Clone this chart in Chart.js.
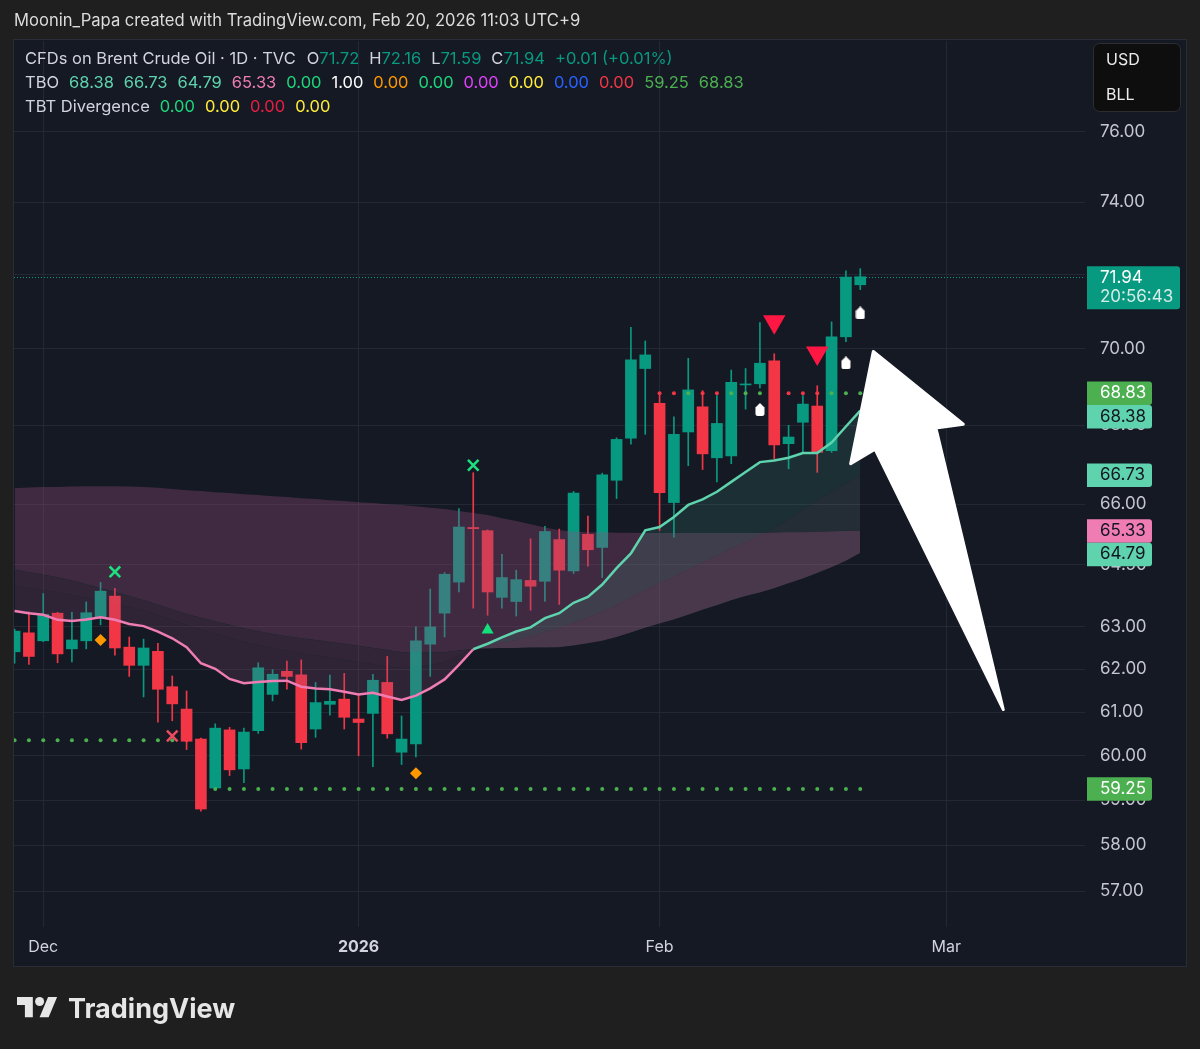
<!DOCTYPE html>
<html>
<head>
<meta charset="utf-8">
<script src="https://cdn.jsdelivr.net/npm/chart.js@4.4.1/dist/chart.umd.min.js"></script>
<style>
  html, body { margin: 0; padding: 0; background: #1f1f1f; }
  canvas { display: block; }
</style>
</head>
<body>
<canvas id="mycanvas" width="1200" height="1049"></canvas>
<script>
// Brent CFD, daily bars Nov 27 2025 .. Feb 20 2026
var dates = ['Nov 27','Nov 28','Dec 1','Dec 2','Dec 3','Dec 4','Dec 5','Dec 8','Dec 9','Dec 10',
  'Dec 11','Dec 12','Dec 15','Dec 16','Dec 17','Dec 18','Dec 19','Dec 22','Dec 23','Dec 24',
  'Dec 26','Dec 29','Dec 30','Dec 31','Jan 2','Jan 5','Jan 6','Jan 7','Jan 8','Jan 9',
  'Jan 12','Jan 13','Jan 14','Jan 15','Jan 16','Jan 19','Jan 20','Jan 21','Jan 22','Jan 23',
  'Jan 26','Jan 27','Jan 28','Jan 29','Jan 30','Feb 2','Feb 3','Feb 4','Feb 5','Feb 6',
  'Feb 9','Feb 10','Feb 11','Feb 12','Feb 13','Feb 16','Feb 17','Feb 18','Feb 19','Feb 20'];

var open = [62.41, 62.86, 62.67, 63.33, 62.48, 62.67, 63.23, 63.74, 62.52, 62.09,
  62.42, 61.59, 61.07, 60.38, 59.27, 60.59, 59.70, 60.57, 61.41, 61.95,
  61.87, 60.61, 61.18, 61.30, 60.84, 60.97, 61.69, 60.08, 60.27, 62.59,
  63.33, 64.08, 65.42, 65.34, 63.71, 63.61, 64.12, 64.10, 65.12, 64.35,
  65.25, 64.93, 66.60, 67.67, 69.48, 68.57, 66.04, 67.83, 68.48, 67.17,
  67.22, 69.05, 69.08, 69.68, 67.53, 68.08, 68.50, 67.35, 70.32, 71.72];
var high = [62.95, 63.36, 63.80, 63.35, 63.35, 63.60, 64.07, 63.93, 62.76, 62.71,
  62.61, 61.84, 61.49, 60.40, 60.73, 60.65, 60.63, 62.15, 61.99, 62.19,
  62.22, 61.69, 61.86, 61.90, 61.40, 61.88, 62.30, 60.91, 63.00, 63.91,
  64.31, 65.89, 66.79, 65.36, 64.76, 64.37, 65.14, 65.45, 65.38, 66.32,
  65.70, 66.78, 67.68, 70.57, 70.21, 68.83, 68.22, 69.75, 68.90, 68.77,
  69.44, 69.48, 70.70, 69.87, 68.00, 68.77, 69.03, 70.72, 72.10, 72.16];
var low = [62.14, 62.11, 62.65, 62.15, 62.17, 62.48, 63.05, 62.33, 61.83, 61.35,
  60.77, 60.80, 60.14, 58.75, 59.27, 59.55, 59.39, 60.51, 61.26, 61.53,
  60.15, 60.42, 60.93, 60.61, 60.00, 59.75, 60.40, 59.80, 59.97, 61.83,
  62.76, 63.84, 63.45, 63.28, 63.45, 63.26, 63.40, 63.61, 63.54, 64.29,
  64.47, 64.19, 66.14, 67.52, 67.77, 65.35, 65.18, 66.97, 66.87, 66.56,
  67.02, 68.42, 68.97, 67.14, 66.89, 67.31, 66.80, 67.31, 70.19, 71.59];
var close = [62.90, 62.30, 63.30, 62.36, 62.69, 63.34, 63.86, 62.50, 62.09, 62.50,
  61.53, 61.19, 60.33, 58.80, 60.63, 59.68, 60.54, 62.03, 61.88, 61.83,
  60.30, 61.22, 61.25, 60.88, 60.76, 61.74, 60.50, 60.38, 62.67, 63.00,
  64.27, 65.43, 65.39, 63.84, 64.19, 64.14, 63.98, 65.32, 64.37, 66.28,
  64.87, 66.74, 67.64, 69.71, 69.84, 66.29, 67.77, 68.92, 67.27, 68.05,
  69.12, 69.07, 69.62, 67.50, 67.70, 68.55, 67.31, 70.32, 71.93, 71.94];

// TBO lines
var tboFast = [63.38, 63.33, 63.29, 63.17, 63.14, 63.18, 63.23, 63.17, 63.07, 63.02,
  62.89, 62.73, 62.52, 62.14, 62.01, 61.77, 61.67, 61.70, 61.72, 61.73,
  61.59, 61.55, 61.53, 61.47, 61.41, 61.45, 61.36, 61.28, 61.38, 61.55,
  61.76, 62.10, 62.47, 62.60, 62.75, 62.89, 62.99, 63.21, 63.33, 63.58,
  63.72, 64.02, 64.42, 64.78, 65.35, 65.43, 65.68, 65.98, 66.12, 66.31,
  66.56, 66.81, 67.06, 67.10, 67.17, 67.29, 67.29, 67.56, 67.97, 68.38];
var tboMid = [64.00, 63.95, 63.89, 63.83, 63.77, 63.70, 63.64, 63.57, 63.48, 63.40,
  63.29, 63.17, 63.05, 62.94, 62.84, 62.74, 62.65, 62.57, 62.50, 62.44,
  62.38, 62.33, 62.28, 62.22, 62.17, 62.12, 62.07, 62.02, 62.05, 62.10,
  62.17, 62.32, 62.48, 62.55, 62.62, 62.69, 62.78, 62.88, 62.98, 63.10,
  63.23, 63.36, 63.52, 63.70, 63.88, 64.05, 64.21, 64.38, 64.55, 64.72,
  64.90, 65.06, 65.23, 65.40, 65.62, 65.86, 66.10, 66.31, 66.52, 66.73];
var tboSlow = [64.38, 64.32, 64.26, 64.20, 64.12, 64.03, 63.93, 63.84, 63.74, 63.64,
  63.53, 63.42, 63.31, 63.22, 63.13, 63.05, 62.97, 62.90, 62.83, 62.78,
  62.73, 62.69, 62.64, 62.60, 62.55, 62.50, 62.45, 62.40, 62.39, 62.39,
  62.40, 62.44, 62.48, 62.49, 62.50, 62.50, 62.51, 62.51, 62.52, 62.56,
  62.61, 62.67, 62.76, 62.87, 62.98, 63.08, 63.18, 63.29, 63.41, 63.52,
  63.64, 63.74, 63.83, 63.93, 64.05, 64.17, 64.30, 64.44, 64.60, 64.79];
var tboLong = [66.40, 66.42, 66.43, 66.43, 66.44, 66.45, 66.45, 66.45, 66.44, 66.43,
  66.41, 66.38, 66.35, 66.33, 66.30, 66.28, 66.25, 66.23, 66.20, 66.18,
  66.15, 66.13, 66.10, 66.08, 66.05, 66.03, 66.00, 65.98, 65.95, 65.91,
  65.88, 65.83, 65.78, 65.73, 65.65, 65.58, 65.50, 65.42, 65.35, 65.32,
  65.30, 65.30, 65.29, 65.29, 65.28, 65.28, 65.28, 65.28, 65.28, 65.28,
  65.28, 65.28, 65.28, 65.29, 65.30, 65.30, 65.31, 65.32, 65.33, 65.33];

var supportLevel = [60.35, 60.35, 60.35, 60.35, 60.35, 60.35, 60.35, 60.35, 60.35, 60.35,
  60.35, 60.35, 60.35, 60.35, 59.25, 59.25, 59.25, 59.25, 59.25, 59.25,
  59.25, 59.25, 59.25, 59.25, 59.25, 59.25, 59.25, 59.25, 59.25, 59.25,
  59.25, 59.25, 59.25, 59.25, 59.25, 59.25, 59.25, 59.25, 59.25, 59.25,
  59.25, 59.25, 59.25, 59.25, 59.25, 59.25, 59.25, 59.25, 59.25, 59.25,
  59.25, 59.25, 59.25, 59.25, 59.25, 59.25, 59.25, 59.25, 59.25, 59.25];
var resistLevel = [null, null, null, null, null, null, null, null, null, null,
  null, null, null, null, null, null, null, null, null, null,
  null, null, null, null, null, null, null, null, null, null,
  null, null, null, null, null, null, null, null, null, null,
  null, null, null, null, null, 68.83, 68.83, 68.83, 68.83, 68.83,
  68.83, 68.83, 68.83, 68.83, 68.83, 68.83, 68.83, 68.83, 68.83, 68.83];

// signals: [bar index, price]
var buyCross = [[7, 64.33], [32, 66.98]];
var sellCross = [[11, 60.45]];
var diamonds = [[6, 62.69], [28, 59.60]];
var triUp = [[33, 62.93]];
var triDown = [[53, 70.72], [56, 69.89]];
var whiteTags = [[52, 68.41], [58, 69.63], [59, 70.96]];

// hand-drawn arrow, [bar index, price]
var arrowPts = [[59.91, 69.93], [66.19, 68.03], [64.28, 67.93], [68.98, 61.06], [60.03, 67.39], [58.33, 67.02]];

var priceTicks = [57, 58, 59, 60, 61, 62, 63, 64.5, 66, 68, 70, 72, 74, 76];
var xTickIndex = [2, 24, 45, 65];
var xTickText = ['Dec', '2026', 'Feb', 'Mar'];

var tboFlags = ['0.00', '1.00', '0.00', '0.00', '0.00', '0.00', '0.00', '0.00'];
var tbtValues = ['0.00', '0.00', '0.00', '0.00'];

var FONT = "Inter, 'Noto Sans', sans-serif";
var up = '#089981', down = '#f23645';
var mint = '#5fd3ad', pink = '#f07cb4', dotGreen = '#4caf50';
var last = close.length - 1;
var idx = close.map(function(_, i) { return i; });

function candleColor(c) {
  var i = c.dataIndex;
  return close[i] >= open[i] ? up : down;
}
function pts(arr) {
  return arr.map(function(p) { return { x: p[0], y: p[1] }; });
}
function series(arr) {
  return arr.map(function(v, i) { return { x: i, y: v }; });
}
function levelColor(level) {
  return function(c) {
    var i = c.dataIndex;
    return close[i] < level[i] ? down : dotGreen;
  };
}

var tag = document.createElement('canvas');
tag.width = 10; tag.height = 13;
(function() {
  var g = tag.getContext('2d');
  g.fillStyle = '#ffffff';
  g.beginPath();
  g.moveTo(5, 0);
  g.lineTo(9.5, 4.5);
  g.lineTo(9.5, 10.5);
  g.quadraticCurveTo(9.5, 13, 7, 13);
  g.lineTo(3, 13);
  g.quadraticCurveTo(0.5, 13, 0.5, 10.5);
  g.lineTo(0.5, 4.5);
  g.closePath();
  g.fill();
})();

function runs(ctx, x, y, list) {
  list.forEach(function(r) {
    ctx.fillStyle = r[1];
    ctx.fillText(r[0], x, y);
    x += ctx.measureText(r[0]).width + r[2];
  });
}

var chrome = {
  id: 'chrome',
  beforeDraw: function(chart) {
    var c = chart.ctx;
    c.save();
    c.fillStyle = '#1f1f1f';
    c.fillRect(0, 0, chart.width, chart.height);
    c.fillStyle = '#151924';
    c.fillRect(14, 40, 1172, 926);
    c.strokeStyle = '#2a2d38';
    c.lineWidth = 1;
    c.strokeRect(13.5, 39.5, 1173, 927);
    c.restore();
  },
  afterDatasetsDraw: function(chart) {
    var c = chart.ctx, xs = chart.scales.x, ys = chart.scales.y, a = chart.chartArea;
    c.save();
    // last price line
    var py = Math.round(ys.getPixelForValue(close[last])) + 0.5;
    c.setLineDash([1, 2]);
    c.strokeStyle = up;
    c.lineWidth = 1;
    c.beginPath();
    c.moveTo(a.left, py);
    c.lineTo(a.right, py);
    c.stroke();
    c.setLineDash([]);
    // arrow
    c.beginPath();
    arrowPts.forEach(function(p, k) {
      var px = xs.getPixelForValue(p[0]), qy = ys.getPixelForValue(p[1]);
      if (k) c.lineTo(px, qy); else c.moveTo(px, qy);
    });
    c.closePath();
    c.fillStyle = '#ffffff';
    c.strokeStyle = '#ffffff';
    c.lineJoin = 'round';
    c.lineWidth = 3;
    c.fill();
    c.stroke();
    c.restore();
  },
  afterDraw: function(chart) {
    var c = chart.ctx, ys = chart.scales.y;
    c.save();
    c.textBaseline = 'middle';
    c.font = '16.6px ' + FONT;
    c.fillStyle = '#dcdcdc';
    c.fillText('Moonin_Papa created with TradingView.com, Feb 20, 2026 11:03 UTC+9', 14, 21);

    var txt = '#d1d4dc';
    var chg = close[last] - close[last - 1];
    var pct = chg / close[last - 1] * 100;
    c.font = '16.5px ' + FONT;
    runs(c, 25, 59, [
      ['CFDs on Brent Crude Oil · 1D · TVC', txt, 11],
      ['O', txt, 0], [open[last].toFixed(2), up, 10],
      ['H', txt, 0], [high[last].toFixed(2), up, 10],
      ['L', txt, 0], [low[last].toFixed(2), up, 10],
      ['C', txt, 0], [close[last].toFixed(2), up, 10],
      ['+' + chg.toFixed(2) + ' (+' + pct.toFixed(2) + '%)', up, 0]
    ]);
    var flagColors = ['#1ed67a', '#ffffff', '#ff9800', '#1ed67a', '#e040fb', '#ffeb3b', '#2962ff', '#f23645'];
    var row2 = [['TBO', txt, 10],
      [tboFast[last].toFixed(2), mint, 10], [tboMid[last].toFixed(2), mint, 10],
      [tboSlow[last].toFixed(2), mint, 10], [tboLong[last].toFixed(2), pink, 10]];
    tboFlags.forEach(function(f, k) { row2.push([f, flagColors[k], 10]); });
    row2.push([supportLevel[last].toFixed(2), dotGreen, 10]);
    row2.push([resistLevel[last].toFixed(2), dotGreen, 10]);
    runs(c, 25, 83, row2);
    var tbtColors = ['#1ed67a', '#ffeb3b', '#e91e43', '#ffeb3b'];
    var row3 = [['TBT Divergence', txt, 10]];
    tbtValues.forEach(function(f, k) { row3.push([f, tbtColors[k], 10]); });
    runs(c, 25, 107, row3);

    // currency box
    c.font = '16px ' + FONT;
    c.beginPath();
    c.roundRect(1093.5, 43.5, 87, 68, 6);
    c.fillStyle = '#0e0e0f';
    c.fill();
    c.strokeStyle = '#2e2e30';
    c.stroke();
    c.fillStyle = '#ececec';
    c.fillText('USD', 1106, 60);
    c.fillText('BLL', 1106, 95);

    // price scale badges
    c.font = '17px ' + FONT;
    var badges = [
      { v: close[last], bg: up, fg: '#ffffff', sub: '20:56:43', w: 93 },
      { v: resistLevel[last], bg: dotGreen, fg: '#ffffff' },
      { v: tboFast[last], bg: mint, fg: '#131722' },
      { v: tboMid[last], bg: mint, fg: '#131722' },
      { v: tboLong[last], bg: pink, fg: '#131722' },
      { v: tboSlow[last], bg: mint, fg: '#131722' },
      { v: supportLevel[last], bg: dotGreen, fg: '#ffffff' }
    ];
    badges.forEach(function(b) {
      var y = ys.getPixelForValue(b.v);
      b.h = b.sub ? 43 : 23.5;
      b.top = b.sub ? y - 10.5 : y - b.h / 2;
    });
    badges.sort(function(p, q) { return p.top - q.top; });
    var bottom = -1e9;
    badges.forEach(function(b) {
      if (b.top < bottom) b.top = bottom;
      bottom = b.top + b.h;
      c.beginPath();
      c.roundRect(1087, b.top, b.w || 65, b.h, [0, 3, 3, 0]);
      c.fillStyle = b.bg;
      c.fill();
      c.fillStyle = b.fg;
      c.fillText(b.v.toFixed(2), 1100, b.top + 11.5);
      if (b.sub) {
        c.fillStyle = '#d4ece6';
        c.fillText(b.sub, 1100, b.top + 31);
      }
    });

    // TradingView logo
    var s = 1.13, ox = 17, oy = 992.5;
    c.fillStyle = '#e6e6e6';
    c.beginPath();
    [[0, 4], [14, 4], [14, 22], [7, 22], [7, 11], [0, 11]].forEach(function(p, k) {
      if (k) c.lineTo(ox + p[0] * s, oy + p[1] * s); else c.moveTo(ox + p[0] * s, oy + p[1] * s);
    });
    c.closePath();
    c.fill();
    c.beginPath();
    c.arc(ox + 20 * s, oy + 8 * s, 4 * s, 0, Math.PI * 2);
    c.fill();
    c.beginPath();
    [[20, 22], [27.5, 4], [35.5, 4], [28, 22]].forEach(function(p, k) {
      if (k) c.lineTo(ox + p[0] * s, oy + p[1] * s); else c.moveTo(ox + p[0] * s, oy + p[1] * s);
    });
    c.closePath();
    c.fill();
    c.font = 'bold 27px ' + FONT;
    c.textBaseline = 'alphabetic';
    c.fillText('TradingView', 68, 1018);
    c.restore();
  }
};

var ctx = document.getElementById('mycanvas');

var chart = new Chart(ctx, {
  type: 'bar',
  plugins: [chrome],
  data: {
    datasets: [
      { type: 'bar', label: 'wick', data: idx.map(function(i) { return { x: i, y: [low[i], high[i]] }; }),
        backgroundColor: candleColor, barThickness: 1, grouped: false, order: 20 },
      { type: 'bar', label: 'body', data: idx.map(function(i) { return { x: i, y: [open[i], close[i]] }; }),
        backgroundColor: candleColor, barThickness: 11, grouped: false, minBarLength: 1, order: 19 },
      { type: 'line', label: 'slow', data: series(tboSlow), borderColor: 'transparent', borderWidth: 0,
        pointRadius: 0, fill: false, order: 9 },
      { type: 'line', label: 'mid', data: series(tboMid), borderColor: 'transparent', borderWidth: 0,
        pointRadius: 0, order: 8,
        fill: { target: 2, above: 'rgba(150,200,185,0.12)', below: 'rgba(150,80,125,0.22)' } },
      { type: 'line', label: 'long', data: series(tboLong), borderColor: 'transparent', borderWidth: 0,
        pointRadius: 0, order: 7,
        fill: { target: 2, above: 'rgba(150,80,125,0.33)', below: 'rgba(60,170,140,0.16)' } },
      { type: 'line', label: 'fast', data: series(tboFast), borderColor: pink, borderWidth: 2.5,
        pointRadius: 0, order: 6,
        segment: { borderColor: function(s) { return tboFast[s.p1DataIndex] > tboMid[s.p1DataIndex] ? mint : pink; } },
        fill: { target: 3, above: 'rgba(60,170,140,0.16)', below: 'rgba(150,80,125,0.2)' } },
      { type: 'line', label: 'support', data: series(supportLevel), showLine: false, pointRadius: 2,
        pointBorderWidth: 0, pointBackgroundColor: levelColor(supportLevel), order: 5 },
      { type: 'line', label: 'resistance', data: series(resistLevel), showLine: false, pointRadius: 2,
        pointBorderWidth: 0, pointBackgroundColor: levelColor(resistLevel), order: 5 },
      { type: 'line', label: 'buy x', data: pts(buyCross), showLine: false, pointStyle: 'crossRot',
        pointRadius: 7.5, pointBorderWidth: 2.5, pointBorderColor: '#1ee07f', order: 2 },
      { type: 'line', label: 'sell x', data: pts(sellCross), showLine: false, pointStyle: 'crossRot',
        pointRadius: 7.5, pointBorderWidth: 2.5, pointBorderColor: '#ef4a5f', order: 2 },
      { type: 'line', label: 'diamond', data: pts(diamonds), showLine: false, pointStyle: 'rectRot',
        pointRadius: 6, pointBorderWidth: 0, pointBackgroundColor: '#ff9800', order: 2 },
      { type: 'line', label: 'tri up', data: pts(triUp), showLine: false, pointStyle: 'triangle',
        pointRadius: 7, pointBorderWidth: 0, pointBackgroundColor: '#12e07a', order: 2 },
      { type: 'line', label: 'tri down', data: pts(triDown), showLine: false, pointStyle: 'triangle',
        pointRotation: 180, pointRadius: 13, pointBorderWidth: 0, pointBackgroundColor: '#ff1744', order: 2 },
      { type: 'line', label: 'tags', data: pts(whiteTags), showLine: false, pointStyle: tag,
        order: 2 }
    ]
  },
  options: {
    responsive: false,
    animation: false,
    devicePixelRatio: 1,
    layout: { padding: { left: 14, right: 14, top: 41, bottom: 83 } },
    plugins: { legend: { display: false }, tooltip: { enabled: false } },
    scales: {
      x: {
        type: 'linear', min: -0.04, max: 74.68, offset: false,
        afterBuildTicks: function(s) { s.ticks = xTickIndex.map(function(v) { return { value: v }; }); },
        afterFit: function(s) { s.height = 39; },
        grid: { color: '#242834', drawTicks: false, offset: false },
        border: { display: false },
        ticks: {
          autoSkip: false, maxRotation: 0, padding: 11, color: '#d1d4dc',
          font: function(c) {
            var k = c.tick ? xTickIndex.indexOf(c.tick.value) : -1;
            return { family: FONT, size: 16, weight: xTickText[k] === '2026' ? 'bold' : 'normal' };
          },
          callback: function(v) { var k = xTickIndex.indexOf(v); return k < 0 ? '' : xTickText[k]; }
        }
      },
      y: {
        type: 'logarithmic', position: 'right', min: 56.23, max: 78.66,
        afterBuildTicks: function(s) { s.ticks = priceTicks.map(function(v) { return { value: v }; }); },
        afterFit: function(s) { s.width = 101; },
        grid: { color: '#242834', drawTicks: false },
        border: { display: false },
        ticks: {
          autoSkip: false, padding: 15, color: '#c3c6ce', font: { family: FONT, size: 17 },
          callback: function(v) { return Number(v).toFixed(2); }
        }
      }
    }
  }
});
</script>
</body>
</html>
